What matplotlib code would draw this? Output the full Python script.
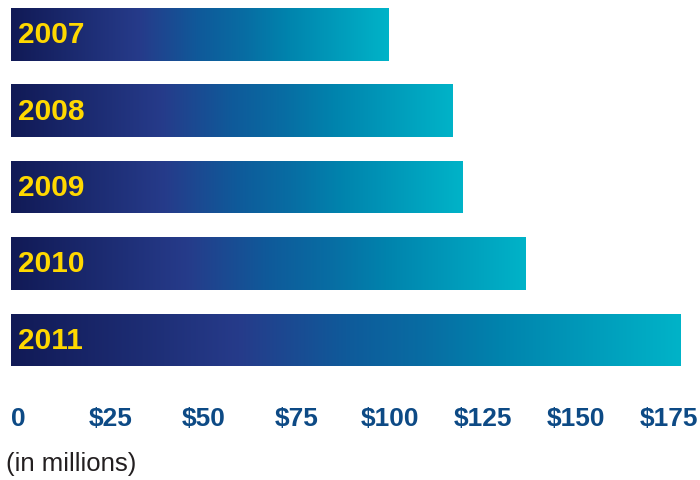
import numpy as np
import matplotlib
matplotlib.use("Agg")
import matplotlib.pyplot as plt
from matplotlib.colors import LinearSegmentedColormap
from matplotlib.transforms import ScaledTranslation

# funding per year, $ millions
years = ["2007", "2008", "2009", "2010", "2011"]
amounts = [101.6, 118.8, 121.5, 138.4, 180.1]
tick_values = [0, 25, 50, 75, 100, 125, 150, 175]
tick_labels = ["0", "$25", "$50", "$75", "$100", "$125", "$150", "$175"]

narrow = ["Liberation Sans Narrow", "Liberation Sans", "DejaVu Sans"]

# navy -> blue -> teal -> cyan, stretched over each bar
grad = LinearSegmentedColormap.from_list("bar_grad", [
    (0.00, "#111a56"),
    (0.34, "#263b8a"),
    (0.50, "#0f5a9a"),
    (0.62, "#086da3"),
    (0.74, "#0085ae"),
    (1.00, "#00b3c8"),
])

fig = plt.figure(figsize=(7, 4.81), dpi=100)
W, H = 700, 481
left_px, right_px = 11, 700
pitch = 76.5
top_px = 35 - pitch / 2
ax = fig.add_axes([left_px / W, 1 - (top_px + 5 * pitch) / H,
                   (right_px - left_px) / W, 5 * pitch / H])

bar_h = 53 / pitch
pos = np.arange(len(years))
bars = ax.barh(pos, amounts, height=bar_h, color="none", edgecolor="none")

ramp = np.linspace(0, 1, 256).reshape(1, -1)
for b, yr in zip(bars, years):
    x0, y0 = b.get_x(), b.get_y()
    w, h = b.get_width(), b.get_height()
    im = ax.imshow(ramp, cmap=grad, aspect="auto",
                   extent=(x0, x0 + w, y0 + h, y0), interpolation="bilinear")
    im.set_clip_path(b)
    ax.text(x0 + 1.9, y0 + h / 2, yr, color="#ffd800", fontsize=21.5,
            fontweight="bold", family=narrow, va="center", ha="left")

ax.set_xlim(0, (right_px - left_px) / 3.72)
ax.set_ylim(len(years) - 0.5, -0.5)
ax.set_yticks([])
ax.set_xticks(tick_values)
ax.set_xticklabels(tick_labels, color="#0d4a85", fontsize=19,
                   fontweight="bold", family=narrow)
ax.tick_params(axis="x", length=0, pad=20)
shift = ScaledTranslation(7 / 100, 0, fig.dpi_scale_trans)
for lbl in ax.get_xticklabels():
    lbl.set_transform(lbl.get_transform() + shift)
for s in ax.spines.values():
    s.set_visible(False)

fig.text(6 / W, 1 - 464 / H, "(in millions)", color="#231f20",
         fontsize=18.5, family=narrow, va="center", ha="left")

fig.savefig("out.png", dpi=100)
